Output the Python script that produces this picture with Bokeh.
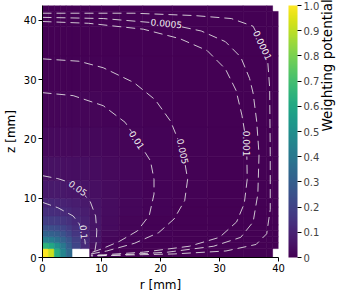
import math
from bokeh.plotting import figure
from bokeh.models import (LinearColorMapper, ColorBar, FixedTicker, ColumnDataSource,
                          Range1d, LinearAxis, PrintfTickFormatter)
from bokeh.palettes import Viridis256
from bokeh.transform import linear_cmap
from bokeh.core.properties import value
from bokeh.embed import file_html
from bokeh.resources import INLINE

NAN = float("nan")

# ---- cell grid of the weighting potential (r, z in mm) ----
r_edges = [0, 1, 2, 3, 4, 5, 6.5, 8, 10, 13, 17, 22, 28, 34, 38, 39, 40]
z_edges = [0, 1.5, 2.5, 3.5, 4.5, 5.5, 7, 8.5, 10, 13, 17, 22, 28, 34, 39, 41.5, 42.5]

# rows from bottom (z) to top, columns from r=0 outwards
potential = [
    [1.0, 0.92, 0.62, 0.45, 0.34, NAN, NAN, 0.02, 0.004, 0.002, 0.001, 0.0005, 0.0002, 0.00005, 0.00002, NAN],
    [0.65, 0.6, 0.5, 0.4, 0.3, 0.21, 0.12, 0.045, 0.011, 0.005, 0.0025, 0.001, 0.0004, 0.0001, 0.00003, 0.00001],
    [0.44, 0.42, 0.37, 0.32, 0.26, 0.19, 0.115, 0.055, 0.018, 0.008, 0.0037, 0.0016, 0.0006, 0.00015, 0.00004, 0.00001],
    [0.32, 0.31, 0.29, 0.25, 0.21, 0.16, 0.108, 0.058, 0.024, 0.011, 0.005, 0.0021, 0.0008, 0.0002, 0.00005, 0.00001],
    [0.245, 0.24, 0.225, 0.2, 0.17, 0.135, 0.1, 0.058, 0.028, 0.013, 0.006, 0.0026, 0.001, 0.0004, 0.00006, 0.00002],
    [0.18, 0.175, 0.168, 0.155, 0.137, 0.116, 0.09, 0.056, 0.031, 0.015, 0.0072, 0.0031, 0.0012, 0.0005, 0.00007, 0.00002],
    [0.135, 0.132, 0.127, 0.12, 0.11, 0.097, 0.079, 0.053, 0.033, 0.017, 0.0082, 0.0035, 0.0013, 0.0006, 0.00008, 0.00002],
    [0.104, 0.102, 0.099, 0.095, 0.089, 0.08, 0.067, 0.048, 0.033, 0.018, 0.009, 0.0039, 0.0014, 0.0006, 0.00008, 0.00002],
    [0.07, 0.069, 0.067, 0.064, 0.06, 0.055, 0.048, 0.04, 0.03, 0.018, 0.0095, 0.0042, 0.0015, 0.0006, 0.00008, 0.00002],
    [0.045, 0.044, 0.043, 0.042, 0.041, 0.039, 0.036, 0.032, 0.026, 0.017, 0.0093, 0.0045, 0.0019, 0.0006, 0.0001, 0.00002],
    [0.027, 0.027, 0.026, 0.026, 0.025, 0.024, 0.023, 0.021, 0.018, 0.013, 0.0083, 0.0043, 0.0018, 0.0006, 0.0001, 0.00002],
    [0.0145, 0.0145, 0.0144, 0.0142, 0.014, 0.0135, 0.0128, 0.0118, 0.0102, 0.0083, 0.0062, 0.0035, 0.0015, 0.0005, 0.0001, 0.00002],
    [0.0075, 0.0075, 0.0074, 0.0073, 0.0072, 0.007, 0.0067, 0.0063, 0.0057, 0.0048, 0.0036, 0.0022, 0.0011, 0.0004, 0.00009, 0.00002],
    [0.003, 0.003, 0.003, 0.0029, 0.0029, 0.0028, 0.0027, 0.0026, 0.0024, 0.0021, 0.0017, 0.0011, 0.0006, 0.00025, 0.00006, 0.00001],
    [0.0007, 0.0007, 0.0007, 0.0007, 0.0007, 0.0007, 0.00068, 0.00066, 0.00063, 0.00058, 0.0005, 0.00038, 0.00025, 0.00012, 0.00003, 0.00001],
    [0.00005, 0.00005, 0.00005, 0.00005, 0.00005, 0.00005, 0.00005, 0.00005, 0.00005, 0.00005, 0.00005, 0.00005, 0.00005, 0.00004, 0.00002, NAN],
]

# ---- contour lines ----
level_values = [0.1, 0.05, 0.01, 0.005, 0.001, 0.0005, 0.0001]
levels = ["0.1", "0.05", "0.01", "0.005", "0.001", "0.0005", "0.0001"]
contour_r = [
    [0, 2.6, 3.7, 5.2, 6.2, 6.8, 7.2, 7.3],
    [0, 2.6, 4.5, 6.2, 8.1, 9.0, 9.2, 9.1, 8.9, 8.6],
    [0, 5.2, 10.3, 14.0, 16.0, 18.3, 18.9, 18.9, 18.1, 16.1, 13.0, 9.9, 8.2],
    [0, 6.2, 10.3, 15.5, 19.1, 21.7, 23.8, 24.6, 24.1, 22.3, 19.7, 15.6, 10.9, 8.2],
    [0, 7.8, 17.1, 23.3, 27.9, 31.0, 32.8, 33.8, 34.6, 34.7, 34.2, 32.9, 30.0, 24.9, 17.1, 10.4, 8.2],
    [0, 10.3, 21.2, 26.9, 31.0, 33.6, 35.1, 35.7, 36.3, 36.7, 36.5, 35.7, 33.6, 29.0, 21.2, 11.9, 8.3],
    [0, 15.5, 25.8, 32.0, 35.7, 37.3, 38.2, 38.5, 38.6, 38.6, 38.0, 36.2, 31.1, 22.3, 11.9, 8.3],
]
contour_z = [
    [9.3, 8.4, 7.8, 7.0, 5.7, 4.3, 2.8, 1.6],
    [13.8, 13.3, 12.7, 11.6, 9.4, 7.0, 4.5, 2.5, 1.2, 0.9],
    [27.8, 27.3, 25.6, 22.8, 19.9, 16.3, 13.2, 10.7, 7.1, 4.5, 2.7, 1.4, 0.8],
    [33.5, 33.1, 32.0, 29.5, 26.6, 23.0, 17.9, 13.2, 9.6, 6.5, 4.2, 2.4, 1.1, 0.6],
    [39.8, 39.5, 38.5, 36.9, 34.9, 31.8, 28.2, 24.0, 19.2, 13.2, 9.1, 6.0, 3.4, 1.9, 0.9, 0.46, 0.4],
    [40.5, 40.3, 39.4, 38.2, 36.4, 33.8, 30.2, 27.7, 23.0, 17.4, 10.7, 6.0, 3.4, 1.9, 0.9, 0.36, 0.3],
    [41.2, 41.2, 40.8, 40.3, 39.0, 35.8, 32.8, 28.7, 17.4, 8.1, 4.0, 2.2, 1.1, 0.6, 0.36, 0.25],
]
label_r = [7.0, 6.0, 16.0, 23.8, 34.6, 21.0, 37.3]
label_z = [4.3, 11.7, 19.8, 17.9, 19.2, 39.5, 35.8]
label_angle = [-85, -35, -57, -78, -90, -6, -65]

cbar_ticks = [0, 0.1, 0.2, 0.3, 0.4, 0.5, 0.6, 0.7, 0.8, 0.9, 1.0]
x_ticks = [0, 10, 20, 30, 40]
y_ticks = [0, 10, 20, 30, 40]

# ---- build cells ----
left, right, bottom, top, val = [], [], [], [], []
for i, row in enumerate(potential):
    for j, v in enumerate(row):
        if math.isnan(v):
            continue
        left.append(r_edges[j]); right.append(r_edges[j + 1])
        bottom.append(z_edges[i]); top.append(z_edges[i + 1])
        val.append(v)
cells = ColumnDataSource(dict(left=left, right=right, bottom=bottom, top=top, v=val))

FONT = "DejaVu Sans"
FW, FH = 236, 252

p = figure(frame_width=FW, frame_height=FH, x_range=Range1d(0, 40), y_range=Range1d(0, 42.5),
           output_backend="svg", toolbar_location=None,
           min_border_left=0, min_border_top=5, min_border_bottom=0, min_border_right=60)
p.outline_line_color = None
p.grid.visible = False
p.background_fill_color = "white"

cmap = linear_cmap("v", Viridis256, 0, 1)
p.quad(left="left", right="right", bottom="bottom", top="top", source=cells,
       fill_color=cmap, line_color=cmap, line_width=0.6)

p.multi_line(xs=contour_r, ys=contour_z, line_color="#e8e8e8", line_alpha=0.85,
             line_width=1, line_dash="9 5")

label_bg = [Viridis256[int(v * 255)] for v in level_values]
lab = ColumnDataSource(dict(r=label_r, z=label_z, t=levels, a=label_angle, bg=label_bg))
p.text(x="r", y="z", text="t", angle="a", angle_units="deg", source=lab,
       text_font=value(FONT), text_font_size="9px", text_color="#f0f0f0",
       text_align="center", text_baseline="middle", background_fill_color="bg")

for ax in (p.xaxis[0], p.yaxis[0]):
    ax.major_tick_in = 0
    ax.major_tick_out = 4
    ax.minor_tick_line_color = None
    ax.major_label_standoff = 2
    ax.axis_label_standoff = 3
    ax.major_label_text_font = FONT
    ax.major_label_text_font_size = "10px"
    ax.axis_label_text_font = FONT
    ax.axis_label_text_font_size = "12px"
    ax.axis_label_text_font_style = "normal"
    ax.axis_line_color = "black"
    ax.major_tick_line_color = "black"
    ax.major_label_text_color = "black"
    ax.axis_label_text_color = "black"
p.xaxis.ticker = FixedTicker(ticks=x_ticks)
p.yaxis.ticker = FixedTicker(ticks=y_ticks)
p.xaxis.axis_label = "r [mm]"
p.yaxis.axis_label = "z [mm]"

# empty axis used as a gap between the frame and the colour bar
spacer = LinearAxis(ticker=FixedTicker(ticks=[]), axis_label="\u00a0",
                    axis_label_text_font_size="7px", axis_label_standoff=0,
                    major_tick_out=0, major_tick_in=0, major_label_standoff=0,
                    axis_line_color=None, major_tick_line_color=None,
                    minor_tick_line_color=None)
p.add_layout(spacer, "right")

mapper = LinearColorMapper(palette=Viridis256, low=0, high=1)
cbar = ColorBar(color_mapper=mapper, ticker=FixedTicker(ticks=cbar_ticks), width=9,
                padding=0, margin=0, major_tick_in=0, major_tick_out=4,
                major_tick_line_color="black", bar_line_color=None,
                background_fill_color=None, border_line_color=None,
                formatter=PrintfTickFormatter(format="%.1f"),
                major_label_text_font=FONT, major_label_text_font_size="10px",
                label_standoff=2, major_label_overrides={0: "0"})
p.add_layout(cbar, "right")

cb_axis = LinearAxis(ticker=FixedTicker(ticks=[]), axis_label="Weighting potential",
                     axis_line_color=None, major_tick_line_color=None,
                     minor_tick_line_color=None, axis_label_standoff=4,
                     axis_label_text_font=FONT, axis_label_text_font_size="13.5px",
                     axis_label_text_font_style="normal", axis_label_text_color="black")
cb_axis.axis_label_orientation = math.pi / 2
p.add_layout(cb_axis, "right")

open("out.html", "w").write(file_html(p, INLINE))
